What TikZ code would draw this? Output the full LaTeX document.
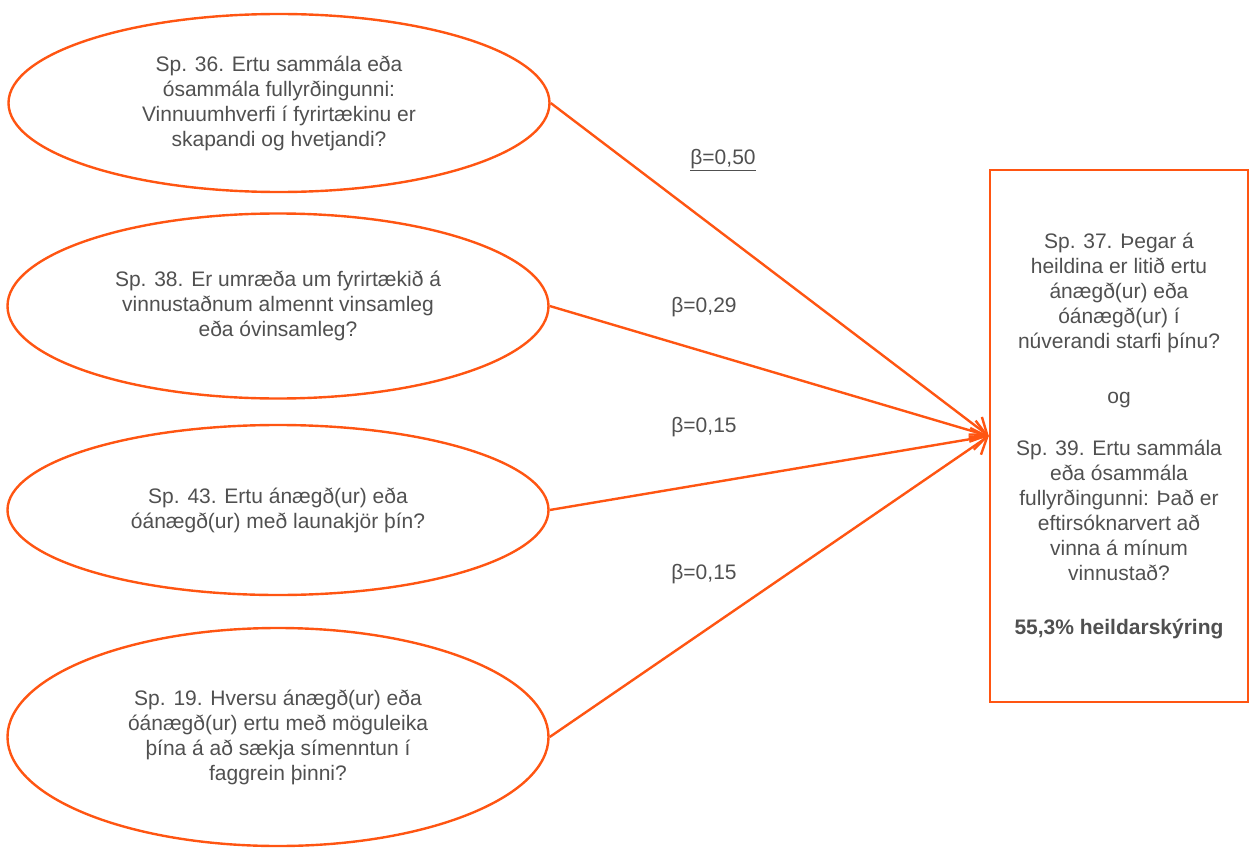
\documentclass[tikz,border=0pt]{standalone}
\usepackage{fontspec}
\setmainfont{Liberation Sans}
\usetikzlibrary{shapes.geometric,arrows.meta}
\definecolor{orng}{HTML}{FF5512}
\definecolor{txt}{HTML}{505050}
\begin{document}
\begin{tikzpicture}[x=1pt,y=-1pt,
  font=\fontsize{21}{25}\selectfont, text=txt,
  q/.style={ellipse, draw=orng, line width=2.4pt, align=center, inner sep=0pt, minimum width=541pt},
  outbox/.style={rectangle, draw=orng, line width=2.4pt, align=center, inner sep=0pt, minimum width=258pt, minimum height=532pt},
  conn/.style={draw=orng, line width=2.4pt, -{Straight Barb[length=15pt,width=22pt,line width=2.4pt]}},
  lbl/.style={text=txt, inner sep=0pt}]
\useasboundingbox (0,0) rectangle (1250,851);

\node[q, minimum height=178pt] (e1) at (279,103) {Sp. 36. Ertu sammála eða\\ósammála fullyrðingunni:\\Vinnuumhverfi í fyrirtækinu er\\skapandi og hvetjandi?};
\node[q, minimum height=185pt] (e2) at (278,306) {Sp. 38. Er umræða um fyrirtækið á\\vinnustaðnum almennt vinsamleg\\eða óvinsamleg?};
\node[q, minimum height=170pt] (e3) at (278,510) {Sp. 43. Ertu ánægð(ur) eða\\óánægð(ur) með launakjör þín?};
\node[q, minimum height=218pt] (e4) at (278,737) {Sp. 19. Hversu ánægð(ur) eða\\óánægð(ur) ertu með möguleika\\þína á að sækja símenntun í\\faggrein þinni?};

\node[outbox] (res) at (1119,436) {Sp. 37. Þegar á\\heildina er litið ertu\\ánægð(ur) eða\\óánægð(ur) í\\núverandi starfi þínu?\\[30pt]og\\[27pt]Sp. 39. Ertu sammála\\eða ósammála\\fullyrðingunni: Það er\\eftirsóknarvert að\\vinna á mínum\\vinnustað?\\[29pt]\textbf{55,3\% heildarskýring}};

\draw[conn] (e1.east) -- (res.west);
\draw[conn] (e2.east) -- (res.west);
\draw[conn] (e3.east) -- (res.west);
\draw[conn] (e4.east) -- (res.west);

\node[lbl] (b1) at (723,160) {\underline{β=0,50}};
\node[lbl] (b2) at (704,307) {β=0,29};
\node[lbl] (b3) at (704,427) {β=0,15};
\node[lbl] (b4) at (704,574) {β=0,15};
\end{tikzpicture}
\end{document}
